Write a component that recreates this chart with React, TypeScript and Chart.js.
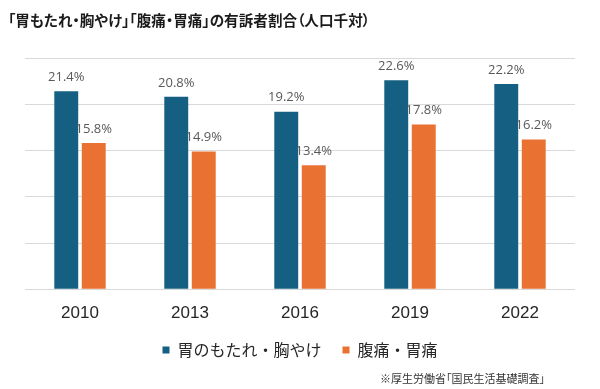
import React, { useEffect, useRef } from "react";
import { Chart, registerables } from "chart.js";

Chart.register(...registerables);

const years = ["2010", "2013", "2016", "2019", "2022"];
const heartburn = [21.4, 20.8, 19.2, 22.6, 22.2];
const stomachache = [15.8, 14.9, 13.4, 17.8, 16.2];
const seriesNames = ["胃のもたれ・胸やけ", "腹痛・胃痛"];
const titleText = "「胃もたれ・胸やけ」「腹痛・胃痛」の有訴者割合（人口千対）";
const sourceText = "※厚生労働省「国民生活基礎調査」";

const BLUE = "#156082";
const ORANGE = "#E97132";

const valueLabels = {
  id: "valueLabels",
  afterDatasetsDraw(chart: any) {
    const ctx = chart.ctx;
    ctx.save();
    ctx.font = '13px "Open Sans", "Noto Sans", sans-serif';
    ctx.fillStyle = "#595959";
    ctx.textAlign = "center";
    ctx.textBaseline = "middle";
    chart.data.datasets.forEach((ds: any, i: number) => {
      const meta = chart.getDatasetMeta(i);
      meta.data.forEach((bar: any, j: number) => {
        ctx.fillText(ds.data[j].toFixed(1) + "%", bar.x, bar.y - 14);
      });
    });
    ctx.restore();
  },
};

export default function App() {
  const ref = useRef<HTMLCanvasElement>(null);

  useEffect(() => {
    document.body.style.margin = "0";
    const chart = new Chart(ref.current!, {
      type: "bar",
      data: {
        labels: years,
        datasets: [
          { label: seriesNames[0], data: heartburn, backgroundColor: BLUE },
          { label: seriesNames[1], data: stomachache, backgroundColor: ORANGE },
        ],
      },
      options: {
        animation: false,
        responsive: false,
        maintainAspectRatio: false,
        layout: { padding: { left: 25, right: 25, top: 58, bottom: 21 } },
        datasets: {
          bar: { categoryPercentage: 0.5, barPercentage: 0.87 },
        },
        scales: {
          x: {
            grid: { display: false, drawTicks: false },
            border: { display: false },
            ticks: {
              color: "#262626",
              padding: 14,
              font: { family: '"Liberation Sans", Arial, sans-serif', size: 17 },
            },
            afterFit: (s: any) => {
              s.height = 31.7;
            },
          },
          y: {
            min: 0,
            max: 25,
            ticks: { display: false, stepSize: 5 },
            grid: { color: "#D9D9D9", drawTicks: false },
            border: { display: false },
            afterFit: (s: any) => {
              s.width = 0;
            },
          },
        },
        plugins: {
          legend: {
            position: "bottom",
            labels: {
              boxWidth: 7,
              boxHeight: 7,
              padding: 21,
              color: "#262626",
              font: { family: '"Noto Sans CJK JP", sans-serif', size: 16 },
            },
          },
          title: { display: false },
          tooltip: { enabled: false },
        },
      },
      plugins: [valueLabels],
    });
    return () => chart.destroy();
  }, []);

  return (
    <div style={{ position: "relative", width: 600, height: 389, background: "#fff" }}>
      <canvas ref={ref} width={600} height={389} style={{ display: "block" }} />
      <div
        style={{
          position: "absolute",
          left: 8,
          top: 10,
          fontFamily: '"Noto Sans CJK JP", sans-serif',
          fontSize: 14.6,
          fontWeight: 700,
          lineHeight: "20px",
          color: "#1a1a1a",
          fontFeatureSettings: '"palt"',
          whiteSpace: "nowrap",
        }}
      >
        {titleText}
      </div>
      <div
        style={{
          position: "absolute",
          right: 55,
          top: 370,
          fontFamily: '"Noto Sans CJK JP", sans-serif',
          fontSize: 11,
          lineHeight: "16px",
          color: "#333",
          fontFeatureSettings: '"palt"',
          whiteSpace: "nowrap",
        }}
      >
        {sourceText}
      </div>
    </div>
  );
}
